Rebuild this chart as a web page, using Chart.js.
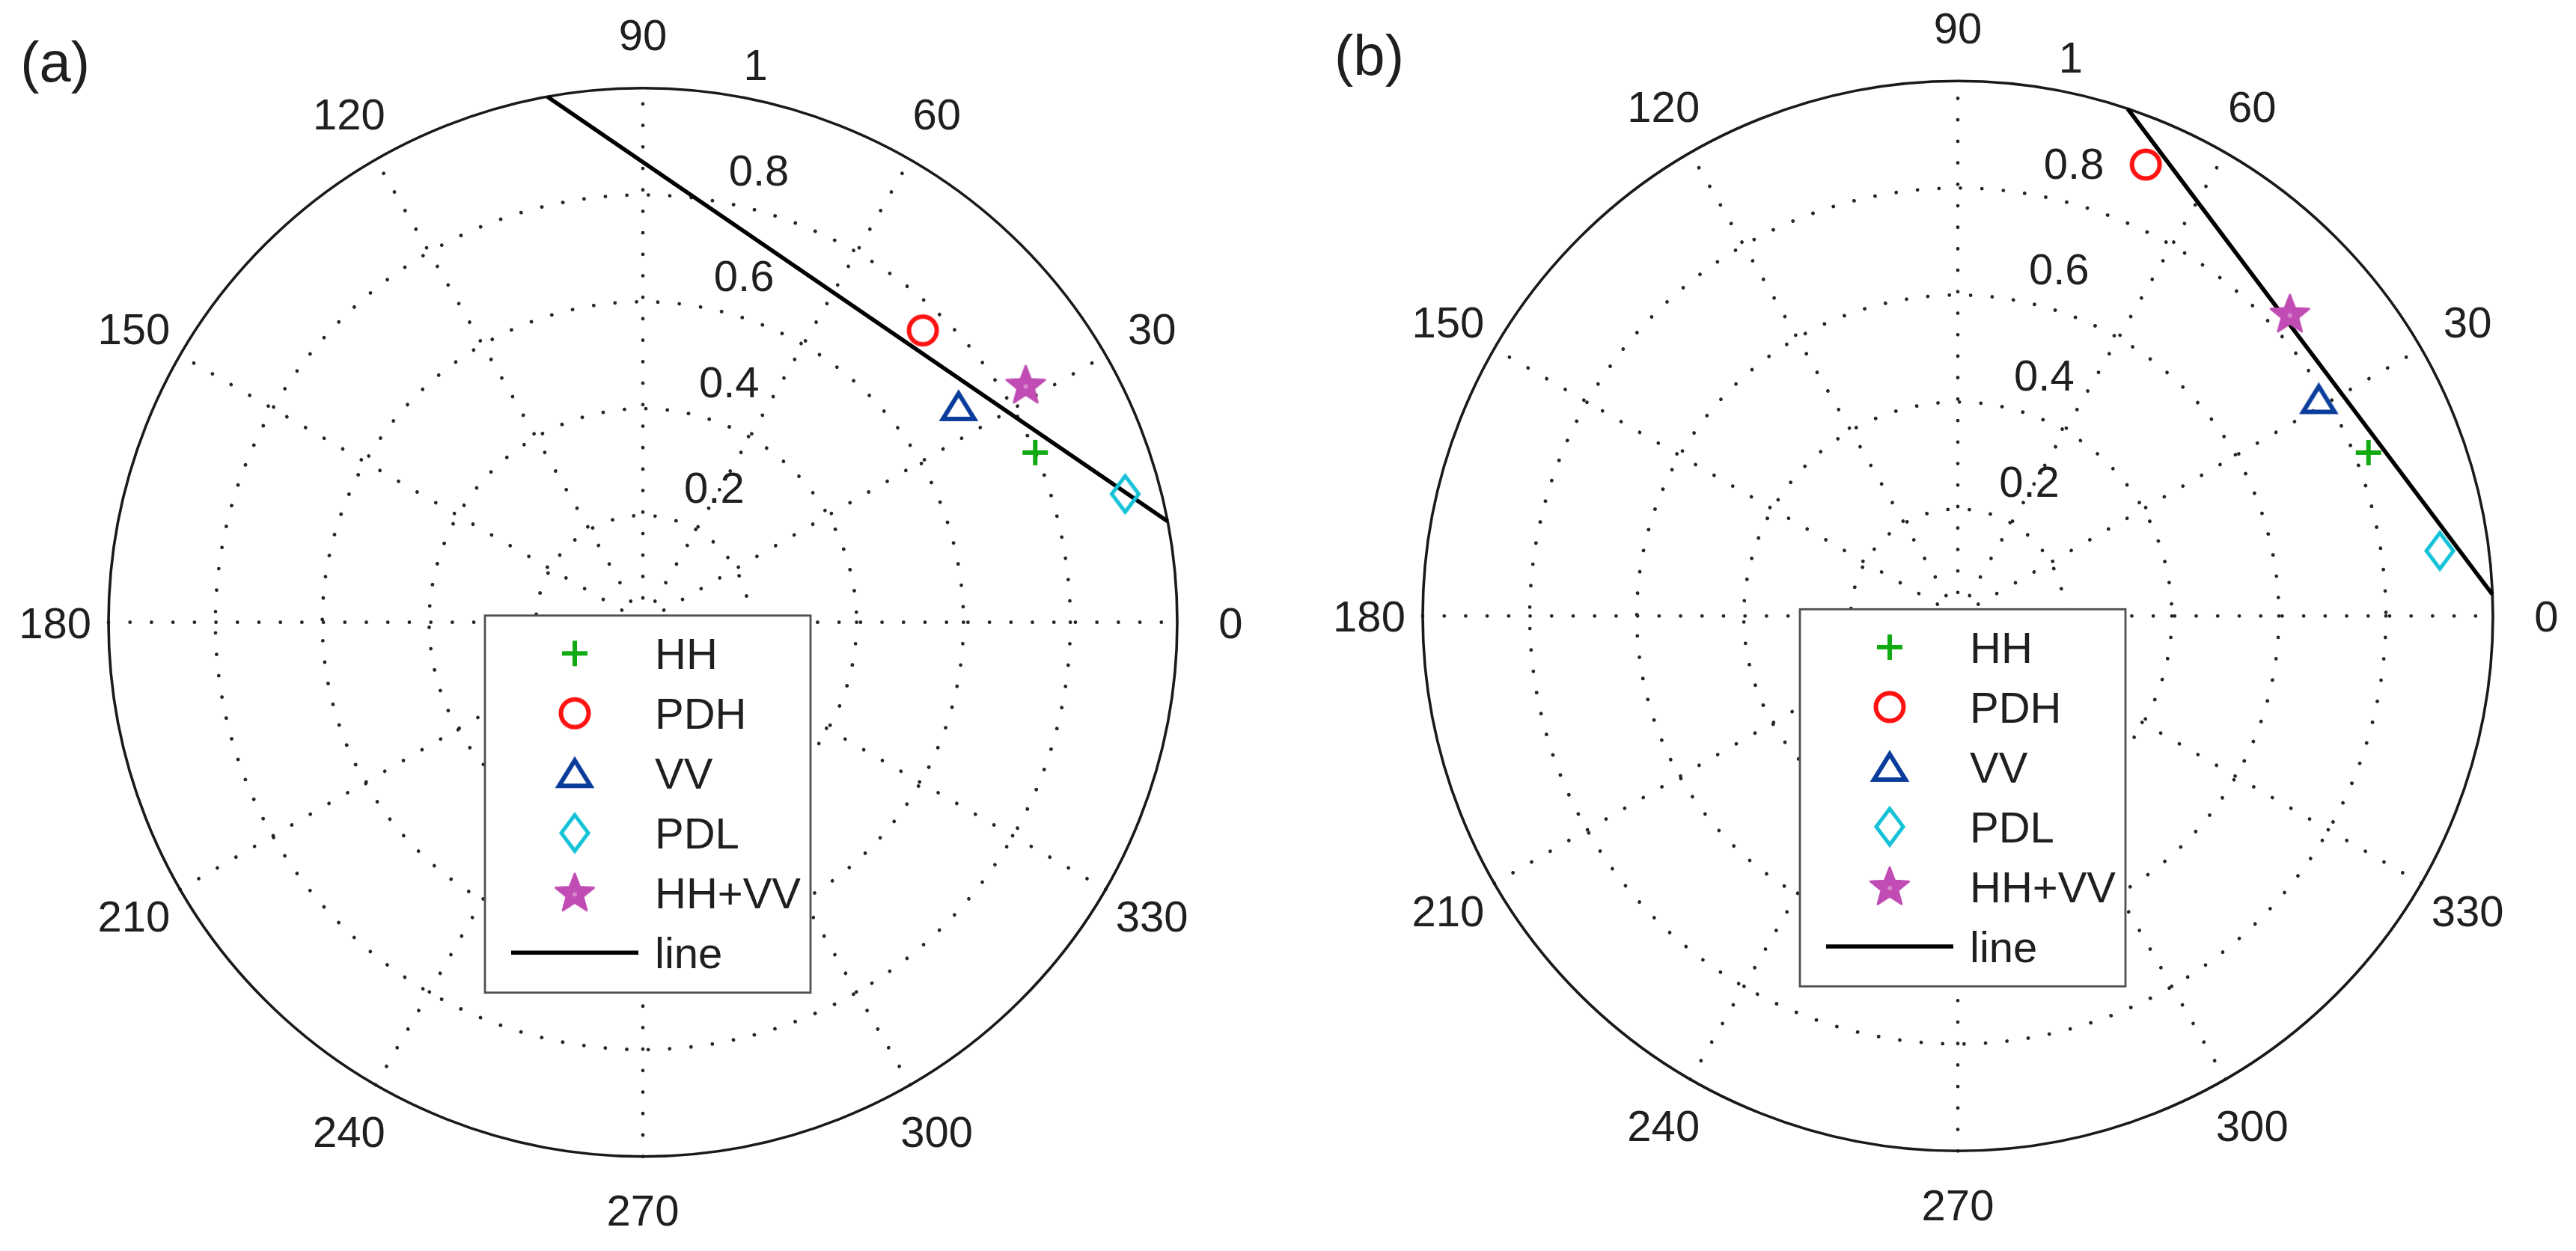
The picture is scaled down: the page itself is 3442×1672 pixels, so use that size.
<!DOCTYPE html>
<html><head><meta charset="utf-8">
<script src="https://cdn.jsdelivr.net/npm/chart.js@4.4.1/dist/chart.umd.min.js"></script>
<style>
html,body{margin:0;padding:0;background:#fff;width:3442px;height:1672px;overflow:hidden}
canvas{position:absolute;top:0}
#ca{left:0}
#cb{left:1721px}
</style></head>
<body>
<canvas id="ca" width="1721" height="1672"></canvas>
<canvas id="cb" width="1721" height="1672"></canvas>
<script>
// ---------------- data ----------------
const panelLabels = ['(a)', '(b)'];
const seriesNames = ['HH', 'PDH', 'VV', 'PDL', 'HH+VV'];
const lineName = 'line';
const angleTicks = [0, 30, 60, 90, 120, 150, 180, 210, 240, 270, 300, 330];
const radiusTicks = [0.2, 0.4, 0.6, 0.8, 1];
const radiusTickLabels = ['0.2', '0.4', '0.6', '0.8', '1'];

// panel (a): radius and angle (degrees) of each series
const rA     = [0.800, 0.757, 0.716, 0.934, 0.843];
const thetaA = [23.4, 46.2, 34.4, 14.9, 31.8];
const lineRA     = [1, 1];
const lineThetaA = [100.3, 10.9];

// panel (b)
const rB     = [0.826, 0.914, 0.787, 0.909, 0.839];
const thetaB = [21.7, 67.4, 31.0, 7.7, 42.3];
const lineRB     = [1, 1];
const lineThetaB = [71.5, 2.3];

// ---------------- styles ----------------
const seriesColors = ['#12aa12', '#ff1212', '#0a3c9c', '#14c2d8', '#c04cb4'];
const FONT = '"Liberation Sans", Arial, Helvetica, sans-serif';
const TEXT = '#1f1f1f';

function makeMarker(kind, color) {
  const c = document.createElement('canvas');
  c.width = 70; c.height = 70;
  const g = c.getContext('2d');
  g.translate(35, 35);
  g.strokeStyle = color; g.fillStyle = color;
  g.lineJoin = 'miter';
  if (kind === 'plus') {
    g.lineWidth = 6;
    g.beginPath(); g.moveTo(-17, 0); g.lineTo(17, 0); g.moveTo(0, -17); g.lineTo(0, 17); g.stroke();
  } else if (kind === 'circle') {
    g.lineWidth = 6;
    g.beginPath(); g.arc(0, 0, 18.5, 0, Math.PI * 2); g.stroke();
  } else if (kind === 'triangle') {
    g.lineWidth = 6;
    g.beginPath(); g.moveTo(0, -17); g.lineTo(21, 17); g.lineTo(-21, 17); g.closePath(); g.stroke();
  } else if (kind === 'diamond') {
    g.lineWidth = 5;
    g.beginPath(); g.moveTo(0, -24); g.lineTo(18, 0); g.lineTo(0, 24); g.lineTo(-18, 0); g.closePath(); g.stroke();
  } else if (kind === 'star') {
    const Ro = 27, Ri = 11.5;
    g.lineWidth = 3; g.lineJoin = 'round';
    g.beginPath();
    for (let i = 0; i < 10; i++) {
      const rr = i % 2 === 0 ? Ro : Ri;
      const a = -Math.PI / 2 + i * Math.PI / 5;
      const px = rr * Math.cos(a), py = rr * Math.sin(a) + 1.5;
      if (i === 0) g.moveTo(px, py); else g.lineTo(px, py);
    }
    g.closePath(); g.fill(); g.stroke();
    g.fillStyle = 'rgba(255,255,255,0.35)';
    g.beginPath(); g.arc(0, 2, 3, 0, Math.PI * 2); g.fill();
  }
  return c;
}
const markerKinds = ['plus', 'circle', 'triangle', 'diamond', 'star'];
const markers = markerKinds.map((k, i) => makeMarker(k, seriesColors[i]));

function toXY(r, thDeg) {
  const t = thDeg * Math.PI / 180;
  return { x: r * Math.cos(t), y: r * Math.sin(t) };
}

function buildDatasets(rs, ths, lineR, lineTh) {
  const ds = seriesNames.map((name, i) => ({
    label: name,
    data: [toXY(rs[i], ths[i])],
    pointStyle: markers[i],
    pointRadius: 20,
    showLine: false,
    clip: false,
    order: 1
  }));
  ds.push({
    label: lineName,
    data: lineR.map((r, i) => toXY(r, lineTh[i])),
    showLine: true,
    borderColor: '#000',
    borderWidth: 5.5,
    pointRadius: 0,
    tension: 0,
    clip: false,
    order: 2
  });
  return ds;
}

// ---------------- polar decoration plugin ----------------
const polarDecor = {
  id: 'polarDecor',
  beforeDatasetsDraw(chart) {
    const ctx = chart.ctx;
    const xs = chart.scales.x, ys = chart.scales.y;
    const cx = xs.getPixelForValue(0), cy = ys.getPixelForValue(0);
    const R = xs.getPixelForValue(1) - cx;
    ctx.save();
    // dotted inner circles
    ctx.strokeStyle = '#262626';
    ctx.lineWidth = 4.8;
    ctx.lineCap = 'round';
    ctx.setLineDash([0.01, 28.7]);
    radiusTicks.forEach(rt => {
      if (rt >= 1) return;
      ctx.beginPath(); ctx.arc(cx, cy, rt * R, 0, Math.PI * 2); ctx.stroke();
    });
    // dotted spokes (full diameters)
    angleTicks.filter(a => a < 180).forEach(a => {
      const t = a * Math.PI / 180;
      ctx.beginPath();
      ctx.moveTo(cx - R * Math.cos(t), cy + R * Math.sin(t));
      ctx.lineTo(cx + R * Math.cos(t), cy - R * Math.sin(t));
      ctx.stroke();
    });
    ctx.setLineDash([]);
    // outer circle
    ctx.strokeStyle = '#1a1a1a';
    ctx.lineWidth = 3.6;
    ctx.beginPath(); ctx.arc(cx, cy, R, 0, Math.PI * 2); ctx.stroke();

    // angle labels
    ctx.fillStyle = TEXT;
    ctx.font = '58px ' + FONT;
    ctx.textAlign = 'center';
    ctx.textBaseline = 'alphabetic';
    angleTicks.forEach(a => {
      const t = a * Math.PI / 180;
      const lx = cx + 1.1 * R * Math.cos(t), ly = cy - 1.1 * R * Math.sin(t);
      ctx.fillText(String(a), lx, ly + 21);
    });
    // radius labels along 82 degrees
    ctx.textAlign = 'left';
    const t82 = 82 * Math.PI / 180;
    radiusTicks.forEach((rt, i) => {
      const rr = (rt + 0.01) * R;
      const ax = cx + rr * Math.cos(t82), ay = cy - rr * Math.sin(t82);
      ctx.fillText('  ' + radiusTickLabels[i], ax + 2, ay - 11);
    });
    // panel label
    ctx.font = '76px ' + FONT;
    ctx.textAlign = 'center';
    ctx.fillText(chart.options.plugins.polarDecor.label, cx - 1.1 * R, cy - 1.05 * R + 27);
    ctx.restore();
  },
  afterDatasetsDraw(chart) {
    const ctx = chart.ctx;
    const xs = chart.scales.x, ys = chart.scales.y;
    const cx = xs.getPixelForValue(0), cy = ys.getPixelForValue(0);
    ctx.save();
    // legend box
    const bx = cx - 211, by = cy - 9, bw = 435, bh = 504;
    ctx.fillStyle = '#fff';
    ctx.fillRect(bx, by, bw, bh);
    ctx.strokeStyle = '#505050';
    ctx.lineWidth = 2.8;
    ctx.strokeRect(bx, by, bw, bh);
    ctx.font = '58px ' + FONT;
    ctx.fillStyle = TEXT;
    ctx.textAlign = 'left';
    ctx.textBaseline = 'alphabetic';
    const ds = chart.data.datasets;
    ds.forEach((d, i) => {
      const yy = cy + 41.6 + 80 * i;
      if (d.showLine) {
        ctx.strokeStyle = '#000';
        ctx.lineWidth = 5.5;
        ctx.beginPath(); ctx.moveTo(cx - 176, yy); ctx.lineTo(cx - 6, yy); ctx.stroke();
      } else {
        const m = d.pointStyle;
        ctx.drawImage(m, cx - 91 - m.width / 2, yy - m.height / 2);
      }
      ctx.fillText(d.label, cx + 16, yy + 21);
    });
    ctx.restore();
  }
};

function makeChart(id, datasets, label, pad) {
  return new Chart(document.getElementById(id), {
    type: 'scatter',
    data: { datasets },
    options: {
      responsive: false,
      animation: false,
      events: [],
      layout: { padding: pad },
      scales: {
        x: { type: 'linear', min: -1, max: 1, display: false },
        y: { type: 'linear', min: -1, max: 1, display: false }
      },
      plugins: {
        legend: { display: false },
        tooltip: { enabled: false },
        polarDecor: { label }
      }
    },
    plugins: [polarDecor]
  });
}

makeChart('ca', buildDatasets(rA, thetaA, lineRA, lineThetaA), panelLabels[0],
  { left: 145, right: 148, top: 117.7, bottom: 126.3 });
makeChart('cb', buildDatasets(rB, thetaB, lineRB, lineThetaB), panelLabels[1],
  { left: 180, right: 111, top: 108.3, bottom: 133.7 });
</script>
</body></html>
